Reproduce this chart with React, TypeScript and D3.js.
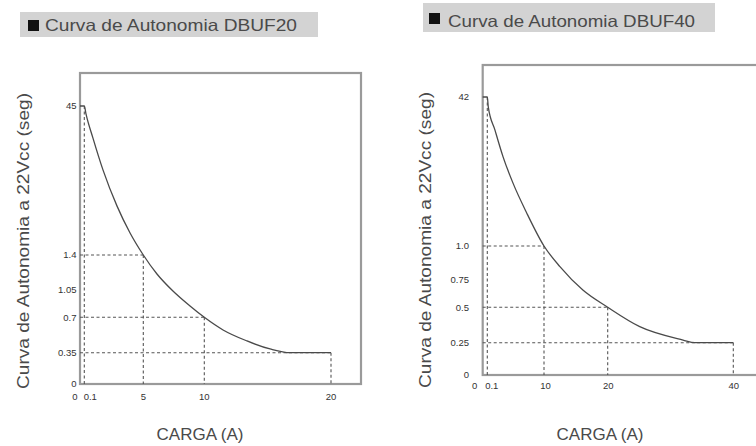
import React from "react";
import * as d3 from "d3";

// ---------- Data ----------
const titles = ["Curva de Autonomia  DBUF20", "Curva de Autonomia  DBUF40"];
const yAxisTitle = "Curva de Autonomia a 22Vcc (seg)";
const xAxisTitle = "CARGA (A)";

// DBUF20
const xTicks20 = [0, 0.1, 5, 10, 20];
const xTickLabels20 = ["0", "0.1", "5", "10", "20"];
const yTicks20 = [0, 0.35, 0.7, 1.05, 1.4, 45];
const yTickLabels20 = ["0", "0.35", "0.7", "1.05", "1.4", "45"];
const refPoints20 = [
  { x: 0.1, y: 45 },
  { x: 5, y: 1.4 },
  { x: 10, y: 0.7 },
  { x: 20, y: 0.35 },
];
const curveX20 = [0, 0.1, 0.24, 0.82, 1.65, 2.82, 3.9, 5, 6.12, 7.43, 8.83, 10, 11.48, 13.37, 15.19, 16.76, 20];
const curveY20 = [45, 45, 42.7, 35.6, 26.3, 15.7, 7.84, 1.4, 1.21, 1.037, 0.845, 0.7, 0.575, 0.466, 0.387, 0.35, 0.35];

// DBUF40
const xTicks40 = [0, 0.1, 10, 20, 40];
const xTickLabels40 = ["0", "0.1", "10", "20", "40"];
const yTicks40 = [0, 0.25, 0.5, 0.75, 1.0, 42];
const yTickLabels40 = ["0", "0.25", "0.5", "0.75", "1.0", "42"];
const refPoints40 = [
  { x: 0.1, y: 42 },
  { x: 10, y: 1.0 },
  { x: 20, y: 0.5 },
  { x: 40, y: 0.25 },
];
const curveX40 = [0, 0.1, 0.27, 1.44, 2.84, 4.59, 6.98, 10, 12.5, 16.1, 20, 25.1, 32.0, 33.9, 40];
const curveY40 = [42, 42, 39.3, 32.9, 25.6, 18.3, 10.1, 1.0, 0.845, 0.654, 0.5, 0.363, 0.269, 0.25, 0.25];

// ---------- Layout ----------
type Cfg = {
  title: string;
  titleBox: [number, number, number, number];
  square: [number, number, number];
  titleX: number;
  titleY: number;
  titleLen: number;
  frame: { left: number; top: number; right: number; bottom: number };
  xRange: number[];
  yRange: number[];
  xTicks: number[];
  xTickLabels: string[];
  xLabelDx: number[];
  xLabelY: number;
  yTicks: number[];
  yTickLabels: string[];
  yLabelX: number;
  yTitleX: number;
  yTitleY: number;
  xTitleX: number;
  refs: { x: number; y: number }[];
  cx: number[];
  cy: number[];
};

const FONT = "'Liberation Sans', Arial, Helvetica, sans-serif";
const DASH = "#555";
const FRAME = "#9a9a9a";

function Panel({ c }: { c: Cfg }) {
  const x = d3.scaleLinear().domain(c.xTicks).range(c.xRange);
  const y = d3.scaleLinear().domain(c.yTicks).range(c.yRange);
  const pts = c.cx.map((v, i) => [v, c.cy[i]] as [number, number]);
  const line = d3
    .line<[number, number]>()
    .x((d) => x(d[0]))
    .y((d) => y(d[1]))
    .curve(d3.curveMonotoneX);
  const f = c.frame;
  const y0 = y(0);
  return (
    <g>
      <rect x={c.titleBox[0]} y={c.titleBox[1]} width={c.titleBox[2]} height={c.titleBox[3]} fill="#d3d3d3" />
      <rect x={c.square[0]} y={c.square[1]} width={c.square[2]} height={c.square[2]} fill="#111" />
      <text x={c.titleX} y={c.titleY} fontFamily={FONT} fontSize={16.5} fill="#4a4a4a" textLength={c.titleLen} lengthAdjust="spacingAndGlyphs">
        {c.title}
      </text>
      {/* frame */}
      <rect x={f.left} y={f.top} width={f.right - f.left} height={f.bottom - f.top} fill="none" stroke={FRAME} strokeWidth={2.2} />
      {/* dashed reference lines */}
      {c.refs.map((p, i) => (
        <g key={i}>
          {i > 0 && (
            <line x1={f.left} x2={x(p.x)} y1={y(p.y)} y2={y(p.y)} stroke={DASH} strokeWidth={1.1} strokeDasharray="3,2.5" />
          )}
          <line x1={x(p.x)} x2={x(p.x)} y1={y(p.y)} y2={y0} stroke={DASH} strokeWidth={1.1} strokeDasharray="3,2.5" />
        </g>
      ))}
      {/* curve */}
      <path d={line(pts) || ""} fill="none" stroke="#4a4a4a" strokeWidth={1.3} />
      {/* y tick labels */}
      {c.yTicks.map((t, i) => (
        <text key={i} x={c.yLabelX} y={y(t)} dy="0.35em" textAnchor="end" fontFamily={FONT} fontSize={9.5} fill="#333">
          {c.yTickLabels[i]}
        </text>
      ))}
      {/* x tick labels */}
      {c.xTicks.map((t, i) => (
        <text key={i} x={x(t) + c.xLabelDx[i]} y={c.xLabelY} dy="0.35em" textAnchor="middle" fontFamily={FONT} fontSize={9.5} fill="#333">
          {c.xTickLabels[i]}
        </text>
      ))}
      {/* axis titles */}
      <text
        transform={`translate(${c.yTitleX},${c.yTitleY}) rotate(-90)`}
        textAnchor="middle"
        fontFamily={FONT}
        fontSize={16.5}
        fill="#4a4a4a"
        textLength={296}
        lengthAdjust="spacingAndGlyphs"
      >
        {yAxisTitle}
      </text>
      <text x={c.xTitleX} y={440} textAnchor="middle" fontFamily={FONT} fontSize={17} fill="#4a4a4a">
        {xAxisTitle}
      </text>
    </g>
  );
}

const cfg20: Cfg = {
  title: titles[0],
  titleBox: [20, 12, 298, 25],
  square: [28, 20, 11],
  titleX: 45,
  titleY: 31,
  titleLen: 252,
  frame: { left: 80, top: 73, right: 361, bottom: 384 },
  xRange: [80, 84.3, 143.3, 204.3, 331],
  yRange: [384, 352.7, 317.3, 290, 255, 106],
  xTicks: xTicks20,
  xTickLabels: xTickLabels20,
  xLabelDx: [-5, 6, 0, 0, 0],
  xLabelY: 396.5,
  yTicks: yTicks20,
  yTickLabels: yTickLabels20,
  yLabelX: 76.5,
  yTitleX: 29,
  yTitleY: 241,
  xTitleX: 200,
  refs: refPoints20,
  cx: curveX20,
  cy: curveY20,
};

const cfg40: Cfg = {
  title: titles[1],
  titleBox: [423, 3, 292, 29],
  square: [429, 13, 11],
  titleX: 448,
  titleY: 27,
  titleLen: 247,
  frame: { left: 482.7, top: 65, right: 780, bottom: 375 },
  xRange: [482.7, 487.3, 544, 607.7, 733.3],
  yRange: [375, 342.7, 307.3, 279.3, 246, 97],
  xTicks: xTicks40,
  xTickLabels: xTickLabels40,
  xLabelDx: [-8, 4.5, 1.5, 0.5, 0.5],
  xLabelY: 386,
  yTicks: yTicks40,
  yTickLabels: yTickLabels40,
  yLabelX: 469,
  yTitleX: 431,
  yTitleY: 240,
  xTitleX: 600,
  refs: refPoints40,
  cx: curveX40,
  cy: curveY40,
};

export default function App() {
  return (
    <svg
      width={756}
      height={446}
      style={{ position: "absolute", left: 0, top: 0, background: "#fff" }}
    >
      <rect width={756} height={446} fill="#fff" />
      <Panel c={cfg20} />
      <Panel c={cfg40} />
    </svg>
  );
}
